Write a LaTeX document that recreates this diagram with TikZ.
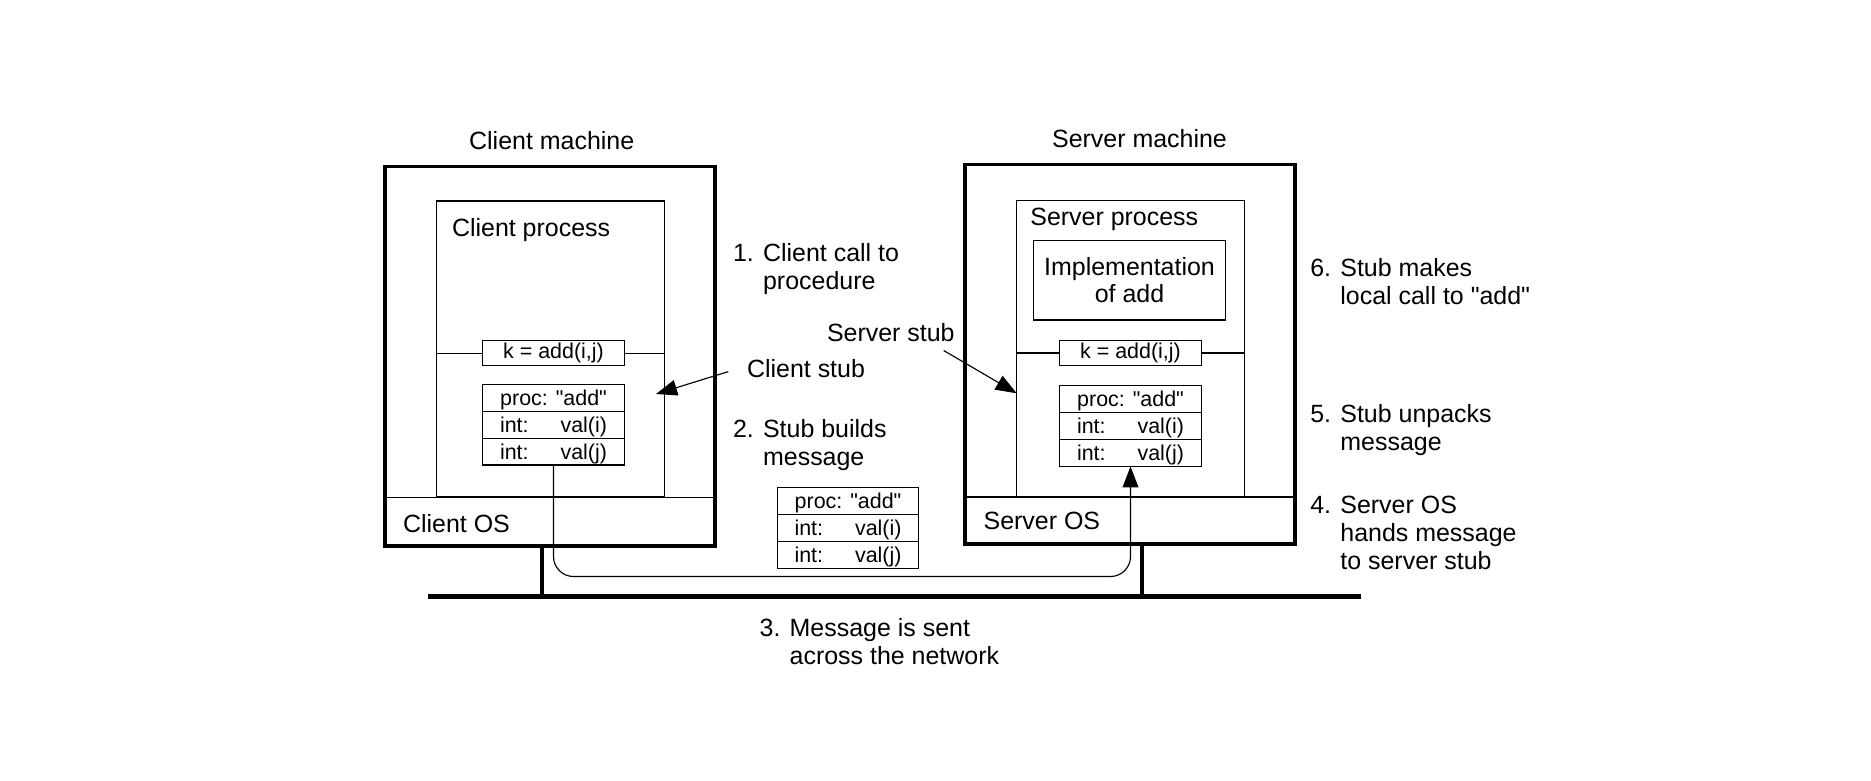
\documentclass[tikz,border=0pt]{standalone}
\usepackage{fontspec}
\setmainfont{Liberation Sans}[Ligatures=TeXOff]
\usetikzlibrary{arrows.meta, positioning}

\newcommand{\lblfont}{\fontsize{14.2}{15.9}\selectfont}
\newcommand{\boxfont}{\fontsize{12.2}{14}\selectfont}
\newcommand{\msgfield}[2]{\makebox[21.4mm]{#1\hfill #2}}

\tikzset{
    machine/.style={draw, line width=2pt, minimum width=66mm, minimum height=75.9mm},
    process/.style={draw, line width=0.65pt, minimum width=45.52mm, minimum height=59.2mm},
    divider/.style={line width=0.65pt},
    callbox/.style={draw, fill=white, line width=0.65pt, minimum width=28.32mm, minimum height=5mm, inner sep=0pt, font=\boxfont},
    msgrow/.style={draw, line width=0.65pt, minimum width=28.32mm, minimum height=5.38mm, inner sep=0pt, text height=3.4mm, text depth=0.3mm, outer sep=0pt, font=\boxfont},
    implbox/.style={draw, line width=0.65pt, minimum width=38.48mm, minimum height=15.86mm, align=center, font=\fontsize{14.2}{15.2}\selectfont},
    lbl/.style={inner sep=0pt, align=left, font=\lblfont},
    ptr/.style={line width=0.65pt, -{Triangle[length=12pt,width=9pt]}},
    bus/.style={line width=3pt},
    link/.style={line width=2.3pt}
}

\begin{document}
\begin{tikzpicture}[x=0.2mm, y=-0.2mm]
    \useasboundingbox (0,0) rectangle (1871,780);

    \node[machine] (cmach) at (550,356.25) {};
    \node[process] (cprocess) at (550.5,349) {};
    \draw[divider] (cprocess.south -| cmach.west) -- (cprocess.south -| cmach.east);
    \node[lbl, anchor=base] (cmtitle) at (551.7,149.7) {Client machine};
    \node[lbl, anchor=west] (cptitle) at (451.7,230) {Client process};
    \node[lbl, anchor=west] (costitle) at (402.7,523.3) {Client OS};

    \node[callbox] (ck) at (553.5,353.2) {k = add(i,j)};
    \draw[divider] (cprocess.west |- ck) -- (ck.west) (ck.east) -- (cprocess.east |- ck);
    \node[msgrow] (cm1) at (553.5,397.75) {proc: "add"};
    \node[msgrow, below=0pt of cm1] (cm2) {\msgfield{int:}{val(i)}};
    \node[msgrow, below=0pt of cm2] (cm3) {\msgfield{int:}{val(j)}};

    \node[machine] (smach) at (1130,354.25) {};
    \node[process] (sprocess) at (1130.5,348.4) {};
    \draw[divider] (sprocess.south -| smach.west) -- (sprocess.south -| smach.east);
    \node[lbl, anchor=base] (smtitle) at (1139.5,147.4) {Server machine};
    \node[lbl, anchor=west] (sptitle) at (1030,219.3) {Server process};
    \node[lbl, anchor=west] (sostitle) at (983.3,521) {Server OS};
    \node[implbox] (simpl) at (1129.5,280.35) {Implementation\\of add};

    \node[callbox] (sk) at (1130.5,353) {k = add(i,j)};
    \draw[divider] (sprocess.west |- sk) -- (sk.west) (sk.east) -- (sprocess.east |- sk);
    \node[msgrow] (sm1) at (1130.5,399.15) {proc: "add"};
    \node[msgrow, below=0pt of sm1] (sm2) {\msgfield{int:}{val(i)}};
    \node[msgrow, below=0pt of sm2] (sm3) {\msgfield{int:}{val(j)}};

    \node[msgrow] (nm1) at (848,501.1) {proc: "add"};
    \node[msgrow, below=0pt of nm1] (nm2) {\msgfield{int:}{val(i)}};
    \node[msgrow, below=0pt of nm2] (nm3) {\msgfield{int:}{val(j)}};

    \node[lbl, anchor=north west] (step1) at (732.7,242.7) {1. Client call to\\\phantom{1. }procedure};
    \node[lbl, anchor=west] (cstub) at (746.7,368.3) {Client stub};
    \node[lbl, anchor=north west] (step2) at (732.7,419.3) {2. Stub builds\\\phantom{2. }message};
    \node[lbl, anchor=west] (sstub) at (826.7,332.3) {Server stub};
    \node[lbl, anchor=north west] (step3) at (759.3,617.7) {3. Message is sent\\\phantom{3. }across the network};
    \node[lbl, anchor=north west] (step4) at (1310,496) {4. Server OS\\\phantom{4. }hands message\\\phantom{4. }to server stub};
    \node[lbl, anchor=north west] (step5) at (1310,404.3) {5. Stub unpacks\\\phantom{5. }message};
    \node[lbl, anchor=north west] (step6) at (1310,258) {6. Stub makes\\\phantom{6. }local call to "add"};

    \coordinate (ctip) at (656,394);
    \coordinate (stip) at (1016.7,393.3);
    \draw[ptr] ([xshift=-3.68mm,yshift=-0.66mm]cstub.west) -- (ctip);
    \draw[ptr] ([xshift=-2.26mm,yshift=-1.74mm]sstub.south east) -- (stip);

    \coordinate (lane) at (848,576.5);
    \draw[ptr, rounded corners=4mm] (cm3.south) -- (cm3.south |- lane) -- (sm3.south |- lane) -- (sm3.south);

    \coordinate (busw) at (428.3,596.5);
    \coordinate (buse) at (1361,596.5);
    \coordinate (ctap) at (541.7,596.5);
    \coordinate (stap) at (1142.3,596.5);
    \draw[bus] (busw) -- (buse);
    \draw[link] (ctap |- cmach.south) -- (ctap);
    \draw[link] (stap |- smach.south) -- (stap);
\end{tikzpicture}
\end{document}
